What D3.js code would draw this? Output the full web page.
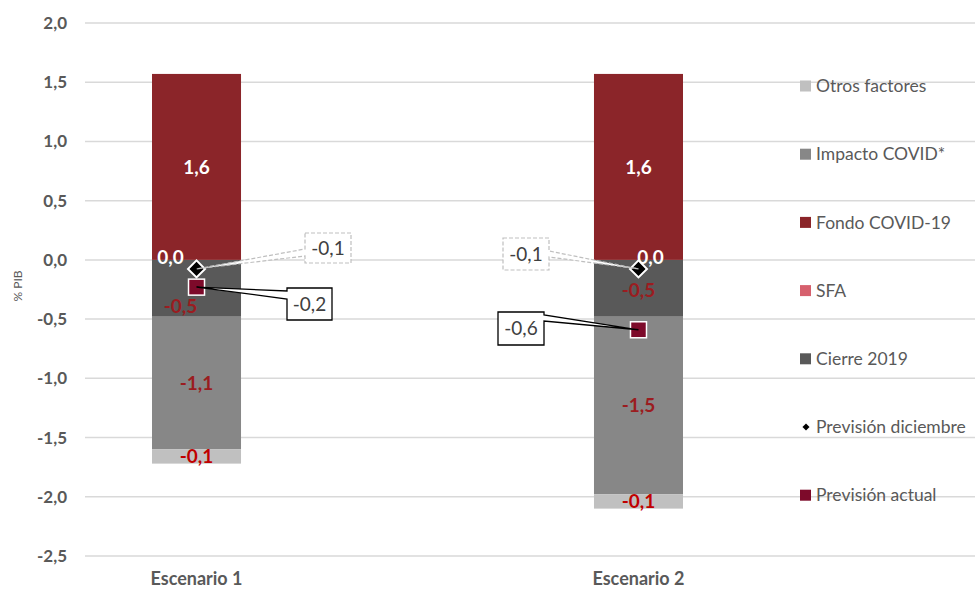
<!DOCTYPE html>
<html>
<head>
<meta charset="utf-8">
<script src="https://cdn.jsdelivr.net/npm/d3@7"></script>
<style>
  body { margin: 0; background: #fff; }
  svg { font-family: "Lato", "Open Sans", sans-serif; }
</style>
</head>
<body>
<div id="chart"></div>
<script>
// Data
var escenarios = ["Escenario 1", "Escenario 2"];
var cierre2019 = [-0.48, -0.48];
var sfa = [0.0, 0.0];
var fondoCovid = [1.57, 1.57];
var impactoCovid = [-1.12, -1.50];
var otrosFactores = [-0.12, -0.12];
var prevDiciembre = [-0.076, -0.076];
var prevActual = [-0.23, -0.59];
var yTicks = [2.0, 1.5, 1.0, 0.5, 0.0, -0.5, -1.0, -1.5, -2.0, -2.5];

var legendNames = ["Otros factores", "Impacto COVID*", "Fondo COVID-19", "SFA", "Cierre 2019", "Previsión diciembre", "Previsión actual"];

var colors = {
  cierre: "#595959",
  sfa: "#d6606d",
  fondo: "#8b2529",
  impacto: "#878787",
  otros: "#c0c0c0",
  actual: "#7d0a2a",
  diciembre: "#000000"
};

var svgWidth = 975, svgHeight = 589;
var svg = d3.select("#chart").append("svg")
  .attr("width", svgWidth)
  .attr("height", svgHeight);

var es = d3.formatLocale({decimal: ",", thousands: ".", grouping: [3], currency: ["", "€"], minus: "-"});
var fmt = es.format(".1f");

// Build table for the stack
var table = escenarios.map(function(d, i) {
  return {
    cat: d,
    cierre: cierre2019[i],
    sfa: sfa[i],
    fondo: fondoCovid[i],
    impacto: impactoCovid[i],
    otros: otrosFactores[i]
  };
});
var keys = ["cierre", "sfa", "fondo", "impacto", "otros"];
var series = d3.stack().keys(keys).offset(d3.stackOffsetDiverging)(table);

// Scales
var x = d3.scaleBand()
  .domain(escenarios)
  .range([85, 750])
  .paddingInner(0.7986)
  .paddingOuter(0.1516);

var y = d3.scaleLinear()
  .domain([-2.5, 2.0])
  .range([556, 23]);

// Gridlines
svg.append("g")
  .selectAll("line")
  .data(yTicks)
  .enter()
  .append("line")
  .attr("x1", 85)
  .attr("x2", 975)
  .attr("y1", d => y(d))
  .attr("y2", d => y(d))
  .attr("stroke", "#d9d9d9")
  .attr("stroke-width", 1.5);

// Y axis labels
var leftAxis = d3.axisLeft(y).tickValues(yTicks).tickFormat(fmt).tickSize(0).tickPadding(0);
var yAxis = svg.append("g")
  .attr("transform", "translate(67,0)")
  .call(leftAxis)
  .attr("font-family", null);
yAxis.select(".domain").remove();
yAxis.selectAll("text")
  .attr("fill", "#595959")
  .attr("font-size", "17px")
  .attr("font-weight", "bold");

svg.append("text")
  .attr("transform", "translate(22," + y(-0.22) + ") rotate(-90)")
  .attr("text-anchor", "middle")
  .attr("font-size", "12px")
  .attr("fill", "#595959")
  .text("% PIB");

// X axis labels
var bottomAxis = d3.axisBottom(x).tickSize(0).tickPadding(0);
var xAxis = svg.append("g")
  .attr("transform", "translate(0,572)")
  .call(bottomAxis)
  .attr("font-family", null);
xAxis.select(".domain").remove();
xAxis.selectAll("text")
  .attr("fill", "#595959")
  .attr("font-size", "18px")
  .attr("font-weight", "bold");

// Bars
var layers = svg.append("g").selectAll("g")
  .data(series)
  .enter()
  .append("g")
  .attr("fill", d => colors[d.key]);

layers.selectAll("rect")
  .data(d => d)
  .enter()
  .append("rect")
  .attr("x", d => x(d.data.cat))
  .attr("y", d => y(Math.max(d[0], d[1])))
  .attr("height", d => Math.abs(y(d[0]) - y(d[1])))
  .attr("width", x.bandwidth());

// Data labels
var labelColor = {cierre: "#9b1c20", sfa: "#ffffff", fondo: "#ffffff", impacto: "#9b1c20", otros: "#c00000"};
series.forEach(function(s) {
  s.forEach(function(d, i) {
    var cx = x(d.data.cat) + x.bandwidth() / 2;
    var cy = y((d[0] + d[1]) / 2);
    var dx = 0, dy = 0;
    if (s.key === "sfa") { dx = i === 0 ? -26 : 12; dy = -3; }
    if (s.key === "cierre" && i === 0) { dx = -16; dy = 18; }
    if (s.key === "cierre" && i === 1) { dy = 2; }
    svg.append("text")
      .attr("x", cx + dx)
      .attr("y", cy + dy)
      .attr("dy", "0.36em")
      .attr("text-anchor", "middle")
      .attr("font-size", "19px")
      .attr("font-weight", "bold")
      .attr("fill", labelColor[s.key])
      .text(fmt(d.data[s.key]));
  });
});

// Markers
var markers = svg.append("g");
markers.selectAll(".dic")
  .data(prevDiciembre)
  .enter()
  .append("rect")
  .attr("class", "dic")
  .attr("width", 12)
  .attr("height", 12)
  .attr("transform", (d, i) => "translate(" + (x(escenarios[i]) + x.bandwidth() / 2) + "," + y(d) + ") rotate(45) translate(-6,-6)")
  .attr("fill", colors.diciembre)
  .attr("stroke", "#fff")
  .attr("stroke-width", 2);

markers.selectAll(".act")
  .data(prevActual)
  .enter()
  .append("rect")
  .attr("class", "act")
  .attr("x", (d, i) => x(escenarios[i]) + x.bandwidth() / 2 - 8)
  .attr("y", d => y(d) - 8)
  .attr("width", 16)
  .attr("height", 16)
  .attr("fill", colors.actual)
  .attr("stroke", "#fff")
  .attr("stroke-width", 1.5);

// Callouts (box with a wedge pointing to the marker)
var callouts = [
  {i: 0, v: prevDiciembre[0], box: [305, 233, 46, 30], side: "left", a: [249, 256], dash: true},
  {i: 0, v: prevActual[0], box: [287, 288, 45, 32], side: "left", a: [291, 299], dash: false},
  {i: 1, v: prevDiciembre[1], box: [503, 238, 46, 32], side: "right", a: [251, 257], dash: true},
  {i: 1, v: prevActual[1], box: [498, 312, 46, 33], side: "right", a: [315, 321], dash: false}
];
callouts.forEach(function(c) {
  var px = x(escenarios[c.i]) + x.bandwidth() / 2;
  var py = y(c.v);
  var L = c.box[0], T = c.box[1], R = L + c.box[2], B = T + c.box[3];
  var p = d3.path();
  if (c.side === "left") {
    p.moveTo(L, T); p.lineTo(R, T); p.lineTo(R, B); p.lineTo(L, B);
    p.lineTo(L, c.a[1]); p.lineTo(px, py); p.lineTo(L, c.a[0]); p.closePath();
  } else {
    p.moveTo(L, T); p.lineTo(R, T); p.lineTo(R, c.a[0]); p.lineTo(px, py);
    p.lineTo(R, c.a[1]); p.lineTo(R, B); p.lineTo(L, B); p.closePath();
  }
  svg.append("path")
    .attr("d", p.toString())
    .attr("fill", "#fff")
    .attr("stroke", c.dash ? "#bfbfbf" : "#000")
    .attr("stroke-width", c.dash ? 1.2 : 1.3)
    .attr("stroke-dasharray", c.dash ? "4,2" : null);
  svg.append("text")
    .attr("x", (L + R) / 2)
    .attr("y", (T + B) / 2)
    .attr("dy", "0.36em")
    .attr("text-anchor", "middle")
    .attr("font-size", "19px")
    .attr("fill", "#404040")
    .text(fmt(c.v));
});

// Legend
var legend = svg.append("g").attr("transform", "translate(800,86)");
var legendColors = [colors.otros, colors.impacto, colors.fondo, colors.sfa, colors.cierre, colors.diciembre, colors.actual];
var item = legend.selectAll("g")
  .data(legendNames)
  .enter()
  .append("g")
  .attr("transform", (d, i) => "translate(0," + i * 68.2 + ")");

item.each(function(d, i) {
  var g = d3.select(this);
  if (i === 5) {
    g.append("rect")
      .attr("width", 5).attr("height", 5)
      .attr("transform", "translate(6,0) rotate(45) translate(-2.5,-2.5)")
      .attr("fill", legendColors[i]);
  } else {
    g.append("rect")
      .attr("x", 0).attr("y", -5.5)
      .attr("width", 11).attr("height", 11)
      .attr("fill", legendColors[i]);
  }
  g.append("text")
    .attr("x", 16)
    .attr("dy", "0.35em")
    .attr("font-size", "17.5px")
    .attr("fill", "#595959")
    .text(d);
});
</script>
</body>
</html>
